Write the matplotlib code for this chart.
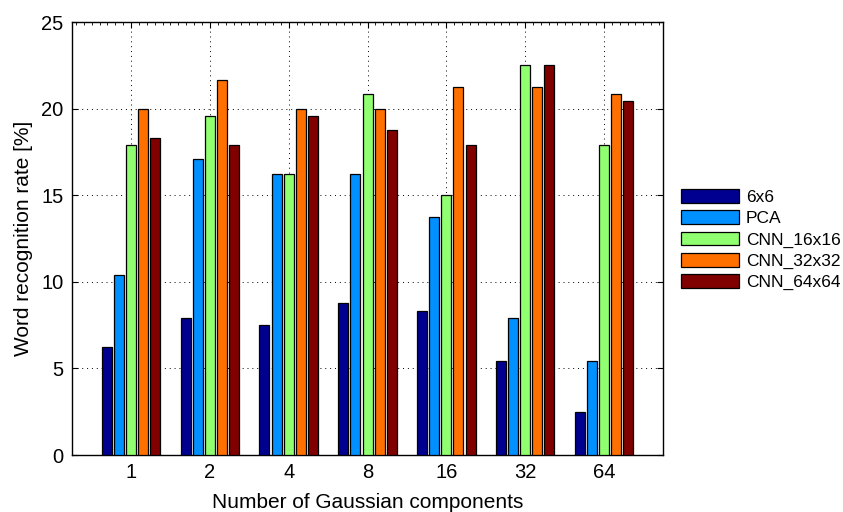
import matplotlib
matplotlib.use("Agg")
import matplotlib.pyplot as plt
import numpy as np
from matplotlib.ticker import AutoMinorLocator, MultipleLocator

plt.rcParams['font.family'] = ['Liberation Sans', 'DejaVu Sans']

# data
components = ['1', '2', '4', '8', '16', '32', '64']
series_names = ['6x6', 'PCA', 'CNN_16x16', 'CNN_32x32', 'CNN_64x64']
rate_6x6 = [6.25, 7.92, 7.50, 8.75, 8.33, 5.42, 2.50]
rate_pca = [10.42, 17.08, 16.25, 16.25, 13.75, 7.92, 5.42]
rate_cnn16 = [17.92, 19.58, 16.25, 20.83, 15.00, 22.50, 17.92]
rate_cnn32 = [20.00, 21.67, 20.00, 20.00, 21.25, 21.25, 20.83]
rate_cnn64 = [18.33, 17.92, 19.58, 18.75, 17.92, 22.50, 20.42]
colors = ['#000090', '#0090ff', '#90ff70', '#ff7000', '#800000']

all_rates = [rate_6x6, rate_pca, rate_cnn16, rate_cnn32, rate_cnn64]

fig = plt.figure(figsize=(8.43, 5.12), dpi=100)
ax = fig.add_axes([0.0854, 0.1113, 0.7011, 0.8457])

x = np.arange(1, len(components) + 1)
pitch = 0.154
width = 0.127
for i, (name, vals, col) in enumerate(zip(series_names, all_rates, colors)):
	ax.bar(x + (i - 2) * pitch, vals, width, color=col, edgecolor='black',
		linewidth=0.9, label=name, zorder=3)

ax.set_xlim(0.25, 7.75)
ax.set_ylim(0, 25)
ax.set_xticks(x)
ax.set_xticklabels(components)
ax.yaxis.set_major_locator(MultipleLocator(5))
ax.xaxis.set_minor_locator(AutoMinorLocator(10))
ax.tick_params(which='both', direction='in', top=True, right=True, labelsize=14.5)
ax.tick_params(which='major', length=4, pad=6)
ax.tick_params(which='minor', length=2)
ax.tick_params(axis='x', which='minor', bottom=False)
ax.grid(True, which='major', linestyle=(0, (1, 4)), color='black', linewidth=0.7, zorder=0)
for sp in ax.spines.values():
	sp.set_linewidth(1.0)

ax.set_xlabel('Number of Gaussian components', fontsize=15, labelpad=8)
ax.set_ylabel('Word recognition rate [%]', fontsize=15, labelpad=6)

ax.legend(loc='center left', bbox_to_anchor=(1.018, 0.497), frameon=False,
	fontsize=12.5, handlelength=3.35, handleheight=0.85, labelspacing=0.3,
	handletextpad=0.4, borderaxespad=0)

fig.savefig('out.png', dpi=100)
